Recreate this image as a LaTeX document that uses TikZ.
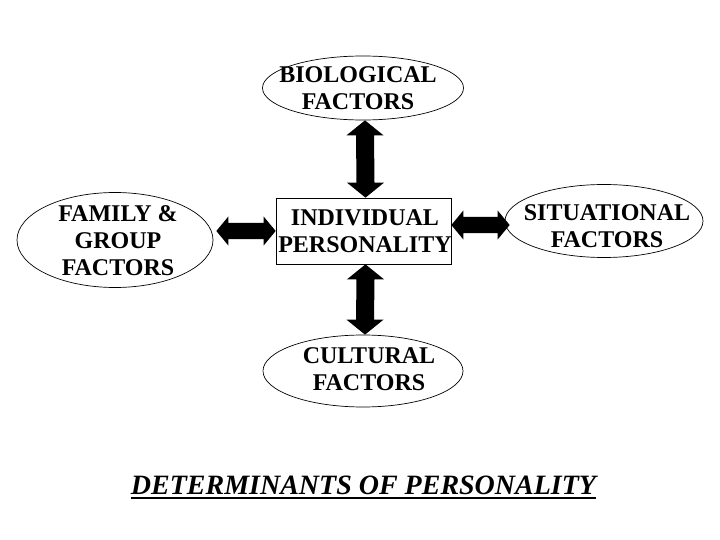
\documentclass[tikz,border=0pt]{standalone}
\usepackage{fontspec}
\setmainfont{Liberation Serif}
\usetikzlibrary{shapes.geometric}
\newcommand{\vdblarrow}[2]{%
  \fill ([shift={(0,0)}]#1) -- ([shift={(18.5pt,-15pt)}]#1) -- ([shift={(9pt,-15pt)}]#1)
    -- ([shift={(9pt,15pt)}]#2) -- ([shift={(18.5pt,15pt)}]#2) -- (#2)
    -- ([shift={(-18.5pt,15pt)}]#2) -- ([shift={(-9pt,15pt)}]#2)
    -- ([shift={(-9pt,-15pt)}]#1) -- ([shift={(-18.5pt,-15pt)}]#1) -- cycle;}
\newcommand{\hdblarrow}[2]{%
  \fill (#1) -- ([shift={(12pt,14.5pt)}]#1) -- ([shift={(12pt,8pt)}]#1)
    -- ([shift={(-12pt,8pt)}]#2) -- ([shift={(-12pt,14.5pt)}]#2) -- (#2)
    -- ([shift={(-12pt,-14.5pt)}]#2) -- ([shift={(-12pt,-8pt)}]#2)
    -- ([shift={(12pt,-8pt)}]#1) -- ([shift={(12pt,-14.5pt)}]#1) -- cycle;}
\begin{document}
\begin{tikzpicture}[x=1pt,y=-1pt,
  lbl/.style={font=\fontsize{24}{27}\selectfont\bfseries, align=center},
  oval/.style={ellipse, draw, line width=0.7pt, inner sep=0pt}]
\useasboundingbox (0,0) rectangle (720,540);
\node[oval, minimum width=201pt, minimum height=64pt] (bio) at (363,88) {};
\node[lbl] at (358,88) {BIOLOGICAL\\FACTORS};
\node[oval, minimum width=196pt, minimum height=95pt] (fam) at (115,240) {};
\node[lbl] at (118,241) {FAMILY \&\\GROUP\\FACTORS};
\node[draw, line width=0.7pt, minimum width=175pt, minimum height=66pt, inner sep=0pt] (ind) at (363.5,231) {};
\node[lbl] at (365,231) {INDIVIDUAL\\PERSONALITY};
\node[oval, minimum width=198pt, minimum height=73pt] (sit) at (604,221) {};
\node[lbl] at (607,226) {SITUATIONAL\\FACTORS};
\node[oval, minimum width=200pt, minimum height=72pt] (cul) at (363,371) {};
\node[lbl] at (369,369) {CULTURAL\\FACTORS};
\coordinate (a1) at ([xshift=2pt]bio.south);
\coordinate (a2) at ([xshift=2pt]ind.north);
\coordinate (b1) at ([xshift=2pt]ind.south);
\coordinate (b2) at ([xshift=2pt]cul.north);
\coordinate (c1) at ([xshift=3pt]ind.west -| fam.east);
\coordinate (c2) at (ind.west);
\coordinate (d1) at ([yshift=-4pt]ind.east |- sit.west);
\coordinate (d2) at ([xshift=5pt,yshift=-4pt]sit.west);
\vdblarrow{a1}{a2}
\vdblarrow{b1}{b2}
\hdblarrow{c1}{c2}
\hdblarrow{d1}{d2}
\node[font=\fontsize{28}{32}\selectfont\bfseries\itshape, inner sep=0pt] (title) at (363.5,485) {DETERMINANTS OF PERSONALITY};
\draw[line width=2pt] ([yshift=-4pt]title.base west) -- ([yshift=-4pt]title.base east);
\end{tikzpicture}
\end{document}
